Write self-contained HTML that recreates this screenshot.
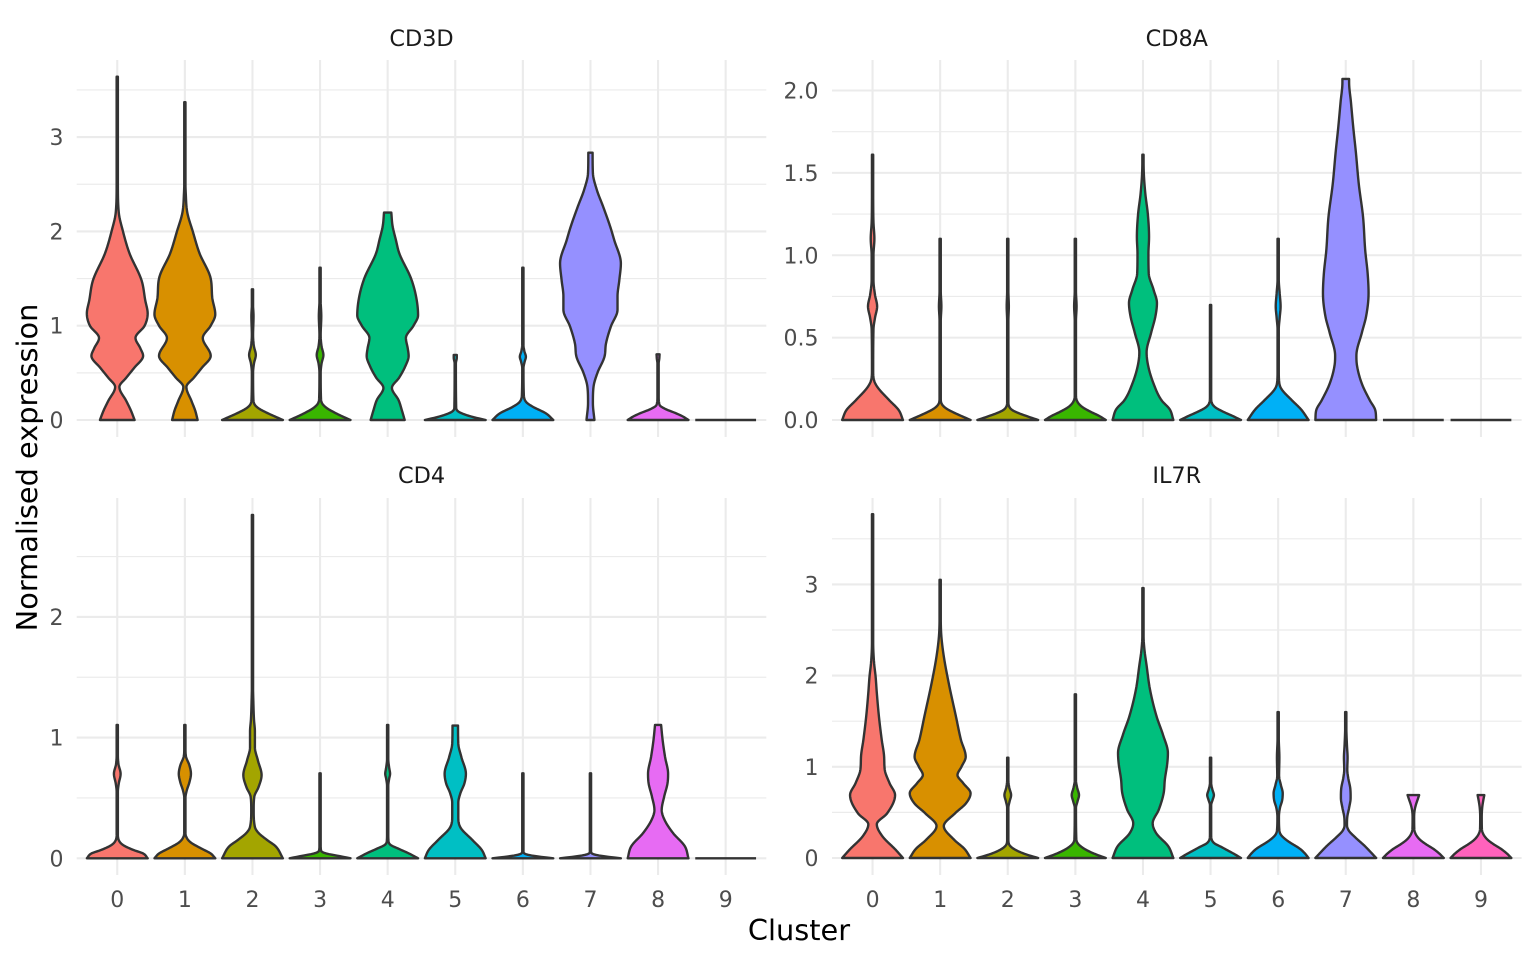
<!DOCTYPE html>
<html><head><meta charset="utf-8">
<style>
html,body{margin:0;padding:0;background:#fff;}
svg{display:block;}
text{font-family:"DejaVu Sans","Liberation Sans",sans-serif;}
.yt{font-size:22px;fill:#4D4D4D;text-anchor:end;}
.xt{font-size:22px;fill:#4D4D4D;text-anchor:middle;}
.st{font-size:22.4px;fill:#1A1A1A;text-anchor:middle;}
.at{font-size:28.8px;fill:#000;text-anchor:middle;}
</style></head><body>
<svg id="s" width="1536" height="960" xmlns="http://www.w3.org/2000/svg">
<rect width="1536" height="960" fill="#fff"/>
<g id="grid"></g>
<g id="vio"></g>
<!-- strip titles -->
<text class="st" x="421.5" y="46">CD3D</text>
<text class="st" x="1176.8" y="46">CD8A</text>
<text class="st" x="421.5" y="483">CD4</text>
<text class="st" x="1176.8" y="483">IL7R</text>
<!-- y ticks panel A -->
<text class="yt" x="63.5" y="428">0</text>
<text class="yt" x="63.5" y="333.7">1</text>
<text class="yt" x="63.5" y="239.4">2</text>
<text class="yt" x="63.5" y="145.1">3</text>
<!-- y ticks panel B -->
<text class="yt" x="818.5" y="428">0.0</text>
<text class="yt" x="818.5" y="345.6">0.5</text>
<text class="yt" x="818.5" y="263.3">1.0</text>
<text class="yt" x="818.5" y="180.9">1.5</text>
<text class="yt" x="818.5" y="98.5">2.0</text>
<!-- y ticks panel C -->
<text class="yt" x="63.5" y="866.3">0</text>
<text class="yt" x="63.5" y="745.6">1</text>
<text class="yt" x="63.5" y="624.9">2</text>
<!-- y ticks panel D -->
<text class="yt" x="818.5" y="866">0</text>
<text class="yt" x="818.5" y="774.8">1</text>
<text class="yt" x="818.5" y="683.6">2</text>
<text class="yt" x="818.5" y="592.4">3</text>
<!-- x ticks panel C -->
<text class="xt" x="117.3" y="907">0</text>
<text class="xt" x="184.9" y="907">1</text>
<text class="xt" x="252.5" y="907">2</text>
<text class="xt" x="320.1" y="907">3</text>
<text class="xt" x="387.7" y="907">4</text>
<text class="xt" x="455.3" y="907">5</text>
<text class="xt" x="522.9" y="907">6</text>
<text class="xt" x="590.5" y="907">7</text>
<text class="xt" x="658.1" y="907">8</text>
<text class="xt" x="725.7" y="907">9</text>
<!-- x ticks panel D -->
<text class="xt" x="872.6" y="907">0</text>
<text class="xt" x="940.2" y="907">1</text>
<text class="xt" x="1007.8" y="907">2</text>
<text class="xt" x="1075.4" y="907">3</text>
<text class="xt" x="1143.0" y="907">4</text>
<text class="xt" x="1210.6" y="907">5</text>
<text class="xt" x="1278.2" y="907">6</text>
<text class="xt" x="1345.8" y="907">7</text>
<text class="xt" x="1413.4" y="907">8</text>
<text class="xt" x="1481.0" y="907">9</text>
<!-- axis titles -->
<text class="at" x="799" y="940">Cluster</text>
<text class="at" transform="translate(37,467.5) rotate(-90)" x="0" y="0">Normalised expression</text>
</svg>
<script>
(function(){
const NS="http://www.w3.org/2000/svg";
const cols=["#F8766D","#D89000","#A3A500","#39B600","#00BF7D","#00BFC4","#00B0F6","#9590FF","#E76BF3","#FF62BC"];
const SP=67.6, HW=30.4;
function el(tag,attrs,parent){const e=document.createElementNS(NS,tag);for(const k in attrs)e.setAttribute(k,attrs[k]);parent.appendChild(e);return e;}
function mono(xs,ys){
 const n=xs.length; const d=[],m=new Array(n);
 for(let i=0;i<n-1;i++) d.push((ys[i+1]-ys[i])/(xs[i+1]-xs[i]));
 m[0]=d[0]; m[n-1]=d[n-2];
 for(let i=1;i<n-1;i++){ if(d[i-1]*d[i]<=0) m[i]=0; else m[i]=(d[i-1]+d[i])/2; }
 for(let i=0;i<n-1;i++){
  if(d[i]===0){m[i]=0;m[i+1]=0;continue;}
  const a=m[i]/d[i], b=m[i+1]/d[i]; const h=a*a+b*b;
  if(h>9){const t=3/Math.sqrt(h); m[i]=t*a*d[i]; m[i+1]=t*b*d[i];}
 }
 return function(x){
  let i=0; while(i<n-2 && x>xs[i+1]) i++;
  const hh=xs[i+1]-xs[i], t=Math.min(Math.max((x-xs[i])/hh,0),1);
  const t2=t*t,t3=t2*t;
  return (2*t3-3*t2+1)*ys[i]+(t3-2*t2+t)*hh*m[i]+(-2*t3+3*t2)*ys[i+1]+(t3-t2)*hh*m[i+1];
 };
}
const P=[
 {x0:76.7,x1:766.3,y0:60,y1:437,z:420,s:94.3,maj:[0,1,2,3],min:[0.5,1.5,2.5,3.5],v:[
  [[0,0.57],[0.1,0.45],[0.2,0.3],[0.35,0.07],[0.45,0.3],[0.55,0.55],[0.68,0.85],[0.76,0.76],[0.87,0.6],[1.0,0.9],[1.13,1.0],[1.27,0.92],[1.48,0.8],[1.77,0.4],[2.01,0.18],[2.2,0.05],[2.5,0.02],[3.64,0.015]],
  [[0,0.42],[0.1,0.34],[0.2,0.22],[0.35,0.05],[0.45,0.3],[0.55,0.55],[0.68,0.85],[0.87,0.59],[1.0,0.85],[1.12,1.0],[1.3,0.9],[1.5,0.85],[1.77,0.48],[2.0,0.26],[2.2,0.08],[2.4,0.03],[2.6,0.015],[3.37,0.015]],
  [[0,1.0],[0.04,0.72],[0.08,0.45],[0.12,0.22],[0.16,0.08],[0.22,0.03],[0.5,0.02],[0.6,0.05],[0.69,0.11],[0.78,0.05],[0.9,0.02],[1.1,0.035],[1.25,0.015],[1.386,0.015]],
  [[0,1.0],[0.04,0.72],[0.08,0.47],[0.12,0.25],[0.17,0.08],[0.23,0.03],[0.5,0.02],[0.6,0.05],[0.69,0.11],[0.78,0.05],[0.9,0.02],[1.1,0.04],[1.3,0.015],[1.615,0.015]],
  [[0,0.56],[0.1,0.47],[0.21,0.36],[0.34,0.14],[0.45,0.38],[0.57,0.58],[0.68,0.69],[0.76,0.66],[0.87,0.6],[1.0,0.85],[1.11,1.0],[1.3,0.94],[1.5,0.77],[1.77,0.38],[1.91,0.27],[2.06,0.16],[2.2,0.12]],
  [[0,1.0],[0.03,0.6],[0.06,0.3],[0.09,0.1],[0.13,0.03],[0.6,0.02],[0.66,0.05],[0.69,0.05]],
  [[0,1.0],[0.07,0.76],[0.14,0.33],[0.19,0.11],[0.28,0.03],[0.55,0.02],[0.62,0.06],[0.67,0.1],[0.73,0.05],[0.8,0.02],[1.615,0.015]],
  [[0,0.13],[0.18,0.08],[0.35,0.1],[0.5,0.23],[0.67,0.46],[0.81,0.51],[0.99,0.67],[1.17,0.89],[1.31,0.89],[1.485,0.95],[1.66,1.0],[1.91,0.78],[2.05,0.65],[2.26,0.42],[2.44,0.21],[2.62,0.08],[2.835,0.07]],
  [[0,1.0],[0.04,0.8],[0.07,0.6],[0.12,0.22],[0.16,0.05],[0.25,0.02],[0.6,0.02],[0.65,0.04],[0.697,0.05]],
  0]},
 {x0:832,x1:1521.6,y0:60,y1:437,z:420,s:164.75,maj:[0,0.5,1,1.5,2],min:[0.25,0.75,1.25,1.75],v:[
  [[0,1.0],[0.06,0.86],[0.12,0.55],[0.2,0.16],[0.24,0.05],[0.3,0.02],[0.55,0.03],[0.62,0.08],[0.69,0.15],[0.76,0.08],[0.85,0.03],[1.0,0.03],[1.1,0.06],[1.2,0.03],[1.35,0.02],[1.61,0.015]],
  [[0,1.0],[0.02,0.75],[0.045,0.45],[0.07,0.2],[0.095,0.06],[0.13,0.02],[0.6,0.02],[0.69,0.04],[0.78,0.02],[1.10,0.015]],
  [[0,1.0],[0.02,0.68],[0.04,0.38],[0.06,0.15],[0.08,0.05],[0.11,0.02],[0.6,0.02],[0.69,0.035],[0.78,0.02],[1.10,0.015]],
  [[0,1.0],[0.025,0.78],[0.05,0.5],[0.08,0.22],[0.11,0.07],[0.15,0.02],[0.6,0.02],[0.69,0.04],[0.78,0.02],[1.10,0.015]],
  [[0,1.0],[0.065,0.88],[0.12,0.61],[0.22,0.35],[0.33,0.17],[0.41,0.12],[0.53,0.27],[0.63,0.41],[0.71,0.46],[0.79,0.35],[0.89,0.19],[1.01,0.18],[1.11,0.2],[1.25,0.16],[1.37,0.08],[1.49,0.03],[1.61,0.015]],
  [[0,1.0],[0.025,0.72],[0.05,0.42],[0.075,0.17],[0.1,0.05],[0.14,0.02],[0.698,0.02]],
  [[0,1.0],[0.065,0.75],[0.12,0.45],[0.185,0.12],[0.22,0.04],[0.3,0.02],[0.55,0.02],[0.62,0.05],[0.69,0.08],[0.77,0.05],[0.85,0.02],[1.10,0.015]],
  [[0,1.0],[0.06,0.97],[0.12,0.79],[0.22,0.53],[0.33,0.37],[0.39,0.35],[0.53,0.53],[0.63,0.67],[0.77,0.75],[0.89,0.72],[1.03,0.64],[1.23,0.57],[1.43,0.43],[1.63,0.33],[1.77,0.25],[1.93,0.17],[2.05,0.11],[2.07,0.11]],
  0,0]},
 {x0:76.7,x1:766.3,y0:498,y1:875,z:858.3,s:120.7,maj:[0,1,2],min:[0.5,1.5,2.5],v:[
  [[0,1.0],[0.04,0.85],[0.07,0.52],[0.11,0.19],[0.15,0.05],[0.2,0.02],[0.55,0.02],[0.62,0.05],[0.7,0.11],[0.78,0.04],[0.85,0.02],[1.105,0.015]],
  [[0,1.0],[0.04,0.85],[0.08,0.55],[0.13,0.2],[0.17,0.06],[0.22,0.02],[0.5,0.02],[0.56,0.06],[0.63,0.15],[0.7,0.2],[0.77,0.15],[0.84,0.04],[0.9,0.02],[1.105,0.015]],
  [[0,1.0],[0.1,0.76],[0.15,0.49],[0.21,0.2],[0.26,0.08],[0.4,0.04],[0.51,0.06],[0.59,0.2],[0.69,0.3],[0.81,0.18],[0.92,0.08],[1.05,0.08],[1.15,0.05],[1.29,0.03],[1.5,0.015],[2.845,0.015]],
  [[0,1.0],[0.02,0.6],[0.04,0.2],[0.06,0.04],[0.1,0.02],[0.704,0.015]],
  [[0,1.0],[0.04,0.7],[0.08,0.35],[0.11,0.1],[0.14,0.03],[0.2,0.02],[0.6,0.02],[0.66,0.05],[0.7,0.08],[0.75,0.05],[0.82,0.02],[1.105,0.015]],
  [[0,1.0],[0.07,0.87],[0.15,0.57],[0.26,0.16],[0.35,0.1],[0.46,0.1],[0.54,0.17],[0.62,0.3],[0.7,0.35],[0.84,0.2],[0.95,0.1],[1.1,0.09]],
  [[0,1.0],[0.015,0.5],[0.03,0.15],[0.045,0.03],[0.07,0.015],[0.704,0.015]],
  [[0,1.0],[0.015,0.5],[0.03,0.15],[0.045,0.03],[0.07,0.015],[0.704,0.015]],
  [[0,1.0],[0.1,0.88],[0.21,0.49],[0.32,0.21],[0.4,0.12],[0.51,0.2],[0.62,0.31],[0.7,0.33],[0.84,0.23],[0.98,0.15],[1.105,0.1]],
  0]},
 {x0:832,x1:1521.6,y0:498,y1:875,z:858,s:91.2,maj:[0,1,2,3],min:[0.5,1.5,2.5,3.5],v:[
  [[0,1.0],[0.09,0.76],[0.24,0.32],[0.37,0.14],[0.49,0.48],[0.69,0.74],[0.82,0.56],[0.97,0.4],[1.11,0.38],[1.3,0.3],[1.55,0.21],[1.81,0.14],[1.99,0.1],[2.14,0.05],[2.36,0.02],[3.77,0.015]],
  [[0,1.0],[0.1,0.8],[0.2,0.46],[0.35,0.12],[0.49,0.49],[0.6,0.85],[0.71,1.0],[0.82,0.76],[0.91,0.57],[1.0,0.7],[1.11,0.84],[1.3,0.68],[1.55,0.52],[1.92,0.28],[2.21,0.12],[2.43,0.04],[2.6,0.02],[3.05,0.015]],
  [[0,1.0],[0.04,0.6],[0.09,0.25],[0.14,0.06],[0.2,0.02],[0.55,0.02],[0.62,0.06],[0.69,0.11],[0.77,0.05],[0.85,0.02],[1.10,0.015]],
  [[0,1.0],[0.05,0.6],[0.1,0.3],[0.16,0.08],[0.22,0.03],[0.55,0.02],[0.62,0.07],[0.69,0.12],[0.77,0.06],[0.85,0.02],[1.795,0.015]],
  [[0,1.0],[0.13,0.83],[0.27,0.44],[0.38,0.32],[0.53,0.52],[0.71,0.68],[0.86,0.72],[1.04,0.8],[1.15,0.82],[1.35,0.66],[1.55,0.45],[1.85,0.23],[2.11,0.12],[2.28,0.05],[2.43,0.02],[2.96,0.015]],
  [[0,1.0],[0.04,0.8],[0.08,0.58],[0.12,0.36],[0.16,0.13],[0.2,0.04],[0.26,0.02],[0.58,0.02],[0.64,0.07],[0.69,0.11],[0.75,0.06],[0.82,0.02],[1.1,0.015]],
  [[0,1.0],[0.05,0.88],[0.1,0.72],[0.19,0.3],[0.25,0.1],[0.3,0.04],[0.45,0.025],[0.55,0.06],[0.63,0.13],[0.71,0.15],[0.8,0.09],[0.9,0.03],[1.1,0.04],[1.3,0.02],[1.6,0.015]],
  [[0,1.0],[0.05,0.86],[0.13,0.63],[0.23,0.3],[0.3,0.1],[0.36,0.04],[0.45,0.05],[0.55,0.11],[0.66,0.16],[0.76,0.15],[0.88,0.08],[0.97,0.05],[1.1,0.06],[1.23,0.04],[1.4,0.02],[1.6,0.015]],
  [[0,1.0],[0.05,0.85],[0.1,0.66],[0.15,0.42],[0.2,0.22],[0.26,0.08],[0.32,0.03],[0.45,0.025],[0.52,0.04],[0.58,0.08],[0.64,0.14],[0.69,0.19]],
  [[0,1.0],[0.05,0.85],[0.1,0.66],[0.15,0.42],[0.2,0.22],[0.26,0.08],[0.32,0.03],[0.45,0.025],[0.55,0.04],[0.62,0.07],[0.69,0.11]]
 ]}
];
const G=document.getElementById("grid"), V=document.getElementById("vio");
P.forEach(p=>{
 p.min.forEach(v=>{const y=p.z-v*p.s; el("line",{x1:p.x0,x2:p.x1,y1:y,y2:y,stroke:"#EBEBEB","stroke-width":1.2},G);});
 p.maj.forEach(v=>{const y=p.z-v*p.s; el("line",{x1:p.x0,x2:p.x1,y1:y,y2:y,stroke:"#EBEBEB","stroke-width":2.1},G);});
 for(let i=0;i<10;i++){const x=p.x0+SP*(0.6+i); el("line",{x1:x,x2:x,y1:p.y0,y2:p.y1,stroke:"#EBEBEB","stroke-width":2.1},G);}
 p.v.forEach((prof,i)=>{
  const cx=p.x0+SP*(0.6+i);
  if(!prof){el("line",{x1:cx-HW,x2:cx+HW,y1:p.z,y2:p.z,stroke:"#333333","stroke-width":2.4},V);return;}
  const vs=prof.map(a=>a[0]), ws=prof.map(a=>a[1]);
  const f=mono(vs,ws); const top=vs[vs.length-1];
  const N=Math.max(2,Math.ceil(top*p.s/0.7));
  const L=[],R=[];
  for(let k=0;k<=N;k++){const v=top*k/N; const w=Math.max(f(v),0.02)*HW; const y=p.z-v*p.s; L.push((cx-w).toFixed(2)+","+y.toFixed(2)); R.push((cx+w).toFixed(2)+","+y.toFixed(2));}
  R.reverse();
  const d="M"+L.join("L")+"L"+R.join("L")+"Z";
  el("path",{d:d,fill:cols[i],stroke:"#333333","stroke-width":2.4,"stroke-linejoin":"round"},V);
 });
});
})();
</script>
</body></html>
